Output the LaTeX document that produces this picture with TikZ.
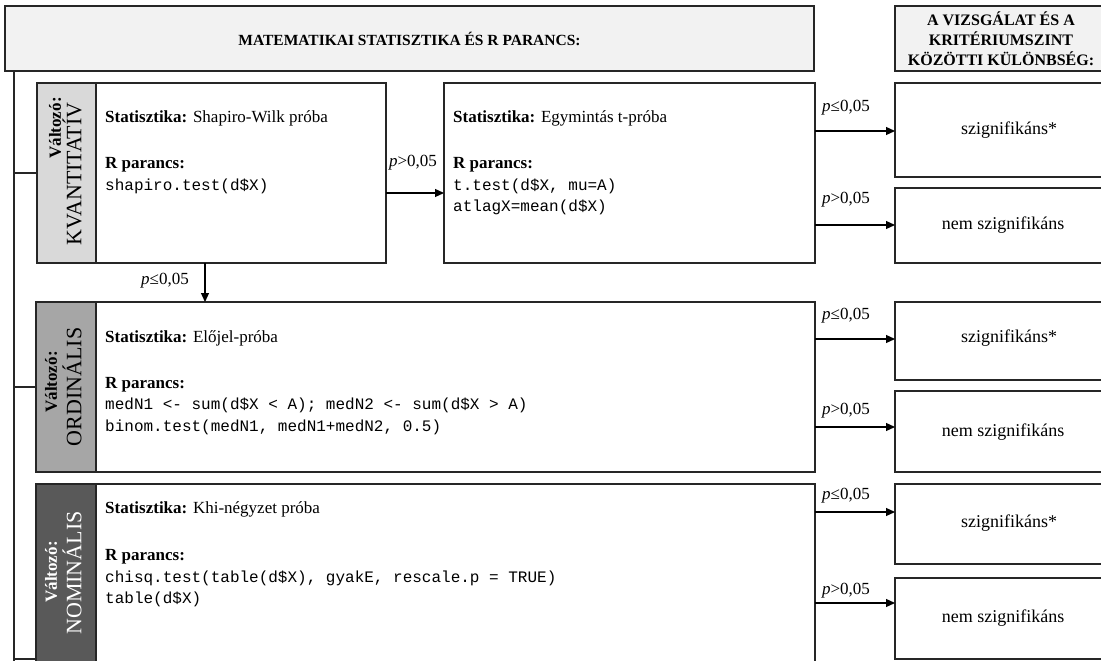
\documentclass[tikz,border=0pt]{standalone}
\usepackage{fontspec}
\setmainfont{Liberation Serif}
\setmonofont{Liberation Mono}
\usetikzlibrary{arrows.meta,calc}
\definecolor{hdrfill}{HTML}{F2F2F2}
\definecolor{kvfill}{HTML}{D9D9D9}
\definecolor{ordfill}{HTML}{A6A6A6}
\definecolor{nomfill}{HTML}{595959}
\definecolor{edge}{HTML}{262626}
\begin{document}
\begin{tikzpicture}[x=1pt,y=-1pt,
  boxst/.style={draw=edge, line width=1.4pt, anchor=north west, inner sep=0pt, outer sep=0pt},
  hdrtext/.style={font=\bfseries\fontsize{15.5}{20}\selectfont, align=center},
  vlab/.style={rotate=90, font=\bfseries\fontsize{17}{20}\selectfont, inner sep=0pt},
  vcap/.style={rotate=90, font=\fontsize{22}{24}\selectfont, inner sep=0pt},
  body/.style={anchor=base west, font=\fontsize{17}{20}\selectfont, inner sep=0pt},
  code/.style={anchor=base west, font=\ttfamily\fontsize{16}{20}\selectfont, inner sep=0pt},
  restext/.style={font=\fontsize{18}{20}\selectfont},
  plab/.style={font=\fontsize{17}{20}\selectfont, inner sep=0pt},
  arr/.style={draw=black, line width=1.2pt, -{Triangle[length=9pt,width=8pt]}},
  link/.style={draw=edge, line width=1.3pt}]
\useasboundingbox (0,0) rectangle (1101,661);
\clip (0,0) rectangle (1101,661);
\fill[white] (0,0) rectangle (1101,661);

% headers
\node[boxst, fill=hdrfill, minimum width=809pt, minimum height=65pt] (hdr) at (5,6) {};
\node[hdrtext] at (hdr.center) {MATEMATIKAI STATISZTIKA ÉS R PARANCS:};
\node[boxst, fill=hdrfill, minimum width=215pt, minimum height=65pt] (hdrr) at (895,6) {};
\node[hdrtext, font=\bfseries\fontsize{16}{20}\selectfont] at (1001,39) {A VIZSGÁLAT ÉS A\\KRITÉRIUMSZINT\\KÖZÖTTI KÜLÖNBSÉG:};

% row 1: kvantitativ
\node[boxst, fill=kvfill, minimum width=59pt, minimum height=180pt] (kql) at (37,83) {};
\node[boxst, minimum width=290pt, minimum height=180pt] (shap) at (96,83) {};
\node[boxst, minimum width=371pt, minimum height=180pt] (ttest) at (444,83) {};
\node[vlab] at (55,128) {Változó:};
\node[vcap] at (72,174) {KVANTITATÍV};
\node[body] at ($(shap.north west)+(9,39)$) {\textbf{Statisztika:} Shapiro-Wilk próba};
\node[body] at ($(shap.north west)+(9,85)$) {\textbf{R parancs:}};
\node[code] at ($(shap.north west)+(9,107)$) {shapiro.test(d\$X)};
\node[body] at ($(ttest.north west)+(9,39)$) {\textbf{Statisztika:} Egymintás t-próba};
\node[body] at ($(ttest.north west)+(9,85)$) {\textbf{R parancs:}};
\node[code] at ($(ttest.north west)+(9,107)$) {t.test(d\$X, mu=A)};
\node[code] at ($(ttest.north west)+(9,128)$) {atlagX=mean(d\$X)};

% row 2: ordinalis
\node[boxst, fill=ordfill, minimum width=60pt, minimum height=170pt] (ordl) at (36,302) {};
\node[boxst, minimum width=719pt, minimum height=170pt] (ord) at (96,302) {};
\node[vlab] at (51,382) {Változó:};
\node[vcap] at (72,387) {ORDINÁLIS};
\node[body] at ($(ord.north west)+(9,40)$) {\textbf{Statisztika:} Előjel-próba};
\node[body] at ($(ord.north west)+(9,86)$) {\textbf{R parancs:}};
\node[code] at ($(ord.north west)+(9,107)$) {medN1 <- sum(d\$X < A); medN2 <- sum(d\$X > A)};
\node[code] at ($(ord.north west)+(9,129)$) {binom.test(medN1, medN1+medN2, 0.5)};

% row 3: nominalis
\node[boxst, fill=nomfill, minimum width=60pt, minimum height=200pt] (noml) at (36,484) {};
\node[boxst, minimum width=719pt, minimum height=200pt] (nom) at (96,484) {};
\node[vlab, text=white] at (51,572) {Változó:};
\node[vcap, text=white] at (72,573) {NOMINÁLIS};
\node[body] at ($(nom.north west)+(9,29)$) {\textbf{Statisztika:} Khi-négyzet próba};
\node[body] at ($(nom.north west)+(9,76)$) {\textbf{R parancs:}};
\node[code] at ($(nom.north west)+(9,98)$) {chisq.test(table(d\$X), gyakE, rescale.p = TRUE)};
\node[code] at ($(nom.north west)+(9,119)$) {table(d\$X)};

% result boxes
\node[boxst, minimum width=215pt, minimum height=94pt] (sig1) at (895,83) {};
\node[restext] at (1009,130) {szignifikáns*};
\node[boxst, minimum width=215pt, minimum height=75pt] (nsig1) at (895,188) {};
\node[restext] at (1003,225) {nem szignifikáns};
\node[boxst, minimum width=215pt, minimum height=78pt] (sig2) at (895,302) {};
\node[restext] at (1009,338) {szignifikáns*};
\node[boxst, minimum width=215pt, minimum height=81pt] (nsig2) at (895,391) {};
\node[restext] at (1003,432) {nem szignifikáns};
\node[boxst, minimum width=215pt, minimum height=80pt] (sig3) at (895,484) {};
\node[restext] at (1009,523) {szignifikáns*};
\node[boxst, minimum width=215pt, minimum height=81pt] (nsig3) at (895,578) {};
\node[restext] at (1003,618) {nem szignifikáns};

% trunk line on the left
\coordinate (trtop) at (14,71);
\coordinate (trbot) at (14,670);
\coordinate (nomtick) at (36,659);
\draw[link] (trtop) -- (trbot);
\draw[link] (trtop |- kql.west) -- (kql.west);
\draw[link] (trtop |- ordl.west) -- (ordl.west);
\draw[link] (trtop |- nomtick) -- (nomtick);

% arrows
\coordinate (a1) at (0,193);
\draw[arr] (shap.east |- a1) -- (ttest.west |- a1);
\node[plab] at (413,163) {\textit{p}>0,05};
\coordinate (a2) at (205,0);
\draw[arr] (shap.south -| a2) -- (ord.north -| a2);
\node[plab] at (165,281) {\textit{p}≤0,05};

\coordinate (b1) at (0,131);
\coordinate (b2) at (0,225);
\coordinate (b3) at (0,339);
\coordinate (b4) at (0,427);
\coordinate (b5) at (0,512);
\coordinate (b6) at (0,603);
\draw[arr] (ttest.east |- b1) -- (sig1.west |- b1);
\draw[arr] (ttest.east |- b2) -- (nsig1.west |- b2);
\draw[arr] (ord.east |- b3) -- (sig2.west |- b3);
\draw[arr] (ord.east |- b4) -- (nsig2.west |- b4);
\draw[arr] (nom.east |- b5) -- (sig3.west |- b5);
\draw[arr] (nom.east |- b6) -- (nsig3.west |- b6);
\node[plab] at (846,108) {\textit{p}≤0,05};
\node[plab] at (846,200) {\textit{p}>0,05};
\node[plab] at (846,316) {\textit{p}≤0,05};
\node[plab] at (846,411) {\textit{p}>0,05};
\node[plab] at (846,496) {\textit{p}≤0,05};
\node[plab] at (846,591) {\textit{p}>0,05};
\end{tikzpicture}
\end{document}
